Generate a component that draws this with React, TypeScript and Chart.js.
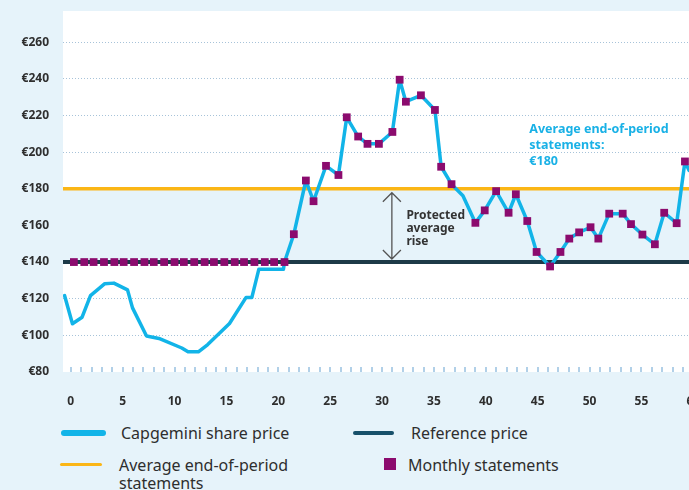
import { useEffect, useRef } from 'react';
import { Chart, registerables } from 'chart.js';

Chart.register(...registerables);

// ---- data ----
const X_MIN = -0.75;
const X_MAX = 62;
const Y_MIN = 80;
const Y_MAX = 277;
const X_STEP = 5;
const X_LABEL_MAX = 60;
const Y_STEP = 20;
const CURRENCY = '€';
const GRID_VALUES = [100, 120, 200, 220, 240, 260];
const REFERENCE_PRICE = 140;
const AVERAGE_STATEMENT = 180;

const shareX = [-0.6, 0.16, 1.09, 1.9, 3.28, 4.15, 5.47, 5.95, 7.3, 8.5, 10.7, 11.3, 12.3, 13.2, 15.3, 16.9, 17.45, 18.13, 20.5, 20.6,
  21.5, 22.66, 23.4, 24.6, 25.8, 26.6, 27.7, 28.6, 29.7, 31.0, 31.7, 32.3, 33.75, 35.1, 35.7, 36.7, 37.8, 39.0, 39.9, 41.0,
  42.2, 42.9, 44.0, 44.9, 46.2, 47.2, 48.05, 49.0, 50.1, 50.85, 51.9, 53.2, 54.0, 55.1, 56.3, 57.2, 58.4, 59.2, 59.6];
const shareY = [121.7, 106.3, 109.9, 121.7, 128.2, 128.5, 124.8, 115, 99.6, 98.3, 93.1, 91, 91, 95, 106.5, 120.7, 120.6, 136.1, 136.1, 140,
  155.2, 184.5, 173.2, 192.5, 187.5, 219, 208.5, 204.5, 204.5, 211, 239.5, 227.5, 231, 223, 192, 182.5, 176.2, 161.4, 168.2, 178.7,
  166.9, 177, 162.4, 145.5, 137.6, 145.5, 152.8, 156.2, 159, 152.8, 166.4, 166.4, 160.7, 155, 149.7, 166.9, 161.2, 194.9, 190];

const monthlyX = [0.3, 1.3, 2.2, 3.2, 4.2, 5.1, 6.1, 7.1, 8.0, 9.0, 10.0, 10.9, 11.9, 12.9, 13.8, 14.8, 15.8, 16.7, 17.7, 18.7, 19.6, 20.6,
  21.5, 22.66, 23.4, 24.6, 25.8, 26.6, 27.7, 28.6, 29.7, 31.0, 31.7, 32.3, 33.75, 35.1, 35.7, 36.7, 39.0, 39.9, 41.0,
  42.2, 42.9, 44.0, 44.9, 46.2, 47.2, 48.05, 49.0, 50.1, 50.85, 51.9, 53.2, 54.0, 55.1, 56.3, 57.2, 58.4, 59.2];
const monthlyY = [140, 140, 140, 140, 140, 140, 140, 140, 140, 140, 140, 140, 140, 140, 140, 140, 140, 140, 140, 140, 140, 140,
  155.2, 184.5, 173.2, 192.5, 187.5, 219, 208.5, 204.5, 204.5, 211, 239.5, 227.5, 231, 223, 192, 182.5, 161.4, 168.2, 178.7,
  166.9, 177, 162.4, 145.5, 137.6, 145.5, 152.8, 156.2, 159, 152.8, 166.4, 166.4, 160.7, 155, 149.7, 166.9, 161.2, 194.9];

const LEGEND_SHARE = 'Capgemini share price';
const LEGEND_REF = 'Reference price';
const LEGEND_AVG = 'Average end-of-period statements';
const LEGEND_MONTHLY = 'Monthly statements';
const NOTE_RISE = ['Protected', 'average', 'rise'];
const NOTE_AVG = ['Average end-of-period', 'statements:', '€180'];

// ---- colours ----
const BG = '#e6f3fa';
const CYAN = '#12b4e8';
const DARK = '#1d3a48';
const ORANGE = '#fbb616';
const PURPLE = '#8b0b6e';
const TEXT = '#2e2e2e';
const FONT = '"Noto Sans", sans-serif';

const decorPlugin = {
  id: 'decor',
  beforeDraw(chart: any) {
    const { ctx, chartArea: a } = chart;
    ctx.save();
    ctx.fillStyle = '#ffffff';
    ctx.fillRect(a.left, a.top, a.right - a.left, a.bottom - a.top);
    ctx.restore();
  },
  beforeDatasetsDraw(chart: any) {
    const { ctx, chartArea: a } = chart;
    const xs = chart.scales.x;
    ctx.save();
    ctx.strokeStyle = '#97c1e0';
    ctx.lineWidth = 1.5;
    for (let v = Math.ceil(xs.min); v <= xs.max; v++) {
      const px = Math.round(xs.getPixelForValue(v));
      ctx.beginPath();
      ctx.moveTo(px, a.bottom - 5);
      ctx.lineTo(px, a.bottom);
      ctx.stroke();
    }
    ctx.restore();
  },
  afterDatasetsDraw(chart: any) {
    const { ctx } = chart;
    const xs = chart.scales.x;
    const ys = chart.scales.y;
    ctx.save();
    // double arrow
    const ax = xs.getPixelForValue(30.95);
    const top = ys.getPixelForValue(AVERAGE_STATEMENT) + 4;
    const bot = ys.getPixelForValue(REFERENCE_PRICE) - 3;
    ctx.strokeStyle = '#555';
    ctx.lineWidth = 1.3;
    ctx.beginPath();
    ctx.moveTo(ax, top);
    ctx.lineTo(ax, bot);
    ctx.moveTo(ax - 9, top + 9);
    ctx.lineTo(ax, top);
    ctx.lineTo(ax + 9, top + 9);
    ctx.moveTo(ax - 9, bot - 9);
    ctx.lineTo(ax, bot);
    ctx.lineTo(ax + 9, bot - 9);
    ctx.stroke();
    // protected text
    ctx.fillStyle = '#333';
    ctx.font = 'bold 12px ' + FONT;
    ctx.textBaseline = 'middle';
    ctx.textAlign = 'left';
    const tx = xs.getPixelForValue(32.35);
    const mid = (ys.getPixelForValue(AVERAGE_STATEMENT) + ys.getPixelForValue(REFERENCE_PRICE)) / 2 + 3;
    NOTE_RISE.forEach((t, i) => ctx.fillText(t, tx, mid + (i - 1) * 13.3));
    // average note
    ctx.fillStyle = '#19b1e6';
    ctx.font = 'bold 12.5px ' + FONT;
    const cx = xs.getPixelForValue(44.2);
    const base = ys.getPixelForValue(200);
    NOTE_AVG.forEach((t, i) => ctx.fillText(t, cx, base - 23 + i * 16));
    ctx.restore();
  },
};

export default function App() {
  const ref = useRef<HTMLCanvasElement>(null);
  useEffect(() => {
    const share = shareX.map((x, i) => ({ x, y: shareY[i] }));
    const monthly = monthlyX.map((x, i) => ({ x, y: monthlyY[i] }));
    const chart = new Chart(ref.current as HTMLCanvasElement, {
      type: 'line',
      data: {
        datasets: [
          {
            label: LEGEND_MONTHLY,
            data: monthly,
            showLine: false,
            pointStyle: 'rect',
            pointRadius: 5.5,
            pointBackgroundColor: PURPLE,
            pointBorderWidth: 0,
            borderWidth: 0,
          },
          {
            label: LEGEND_SHARE,
            data: share,
            borderColor: CYAN,
            borderWidth: 3.5,
            pointRadius: 0,
            tension: 0,
            borderJoinStyle: 'round',
            borderCapStyle: 'round',
            fill: false,
          },
          {
            label: LEGEND_REF,
            data: [{ x: X_MIN, y: REFERENCE_PRICE }, { x: X_MAX, y: REFERENCE_PRICE }],
            borderColor: DARK,
            borderWidth: 4,
            pointRadius: 0,
            fill: false,
          },
          {
            label: LEGEND_AVG,
            data: [{ x: X_MIN, y: AVERAGE_STATEMENT }, { x: X_MAX, y: AVERAGE_STATEMENT }],
            borderColor: ORANGE,
            borderWidth: 3.5,
            pointRadius: 0,
            fill: { value: REFERENCE_PRICE },
            backgroundColor: BG,
          },
        ],
      } as any,
      options: {
        responsive: false,
        maintainAspectRatio: false,
        devicePixelRatio: 1,
        animation: false,
        layout: { padding: { top: 11, right: 26, left: 0, bottom: 0 } },
        plugins: { legend: { display: false }, tooltip: { enabled: false } },
        scales: {
          x: {
            type: 'linear',
            min: X_MIN,
            max: X_MAX,
            grid: { display: false, drawTicks: false },
            border: { display: false },
            ticks: {
              stepSize: X_STEP,
              includeBounds: false,
              autoSkip: false,
              maxRotation: 0,
              padding: 22,
              color: TEXT,
              font: { family: FONT, size: 12, weight: 'bold' },
              callback: (v: any) => (Number.isInteger(v) && v % X_STEP === 0 && v >= 0 && v <= X_LABEL_MAX ? String(v) : ''),
            },
            afterFit: (s: any) => { s.height = 48; s.paddingLeft = 0; s.paddingRight = 0; },
          },
          y: {
            type: 'linear',
            min: Y_MIN,
            max: Y_MAX,
            grid: {
              drawTicks: false,
              lineWidth: 1,
              color: (c: any) => (c.tick && GRID_VALUES.includes(c.tick.value) ? '#a7c3d9' : 'rgba(0,0,0,0)'),
            },
            border: { display: false, dash: [1, 2] },
            ticks: {
              stepSize: Y_STEP,
              includeBounds: false,
              padding: 14,
              color: TEXT,
              font: { family: FONT, size: 12, weight: 'bold' },
              callback: (v: any) => CURRENCY + v,
            },
            afterFit: (s: any) => { s.width = 63; s.paddingTop = 0; s.paddingBottom = 0; },
          },
        },
      } as any,
      plugins: [decorPlugin],
    });
    return () => chart.destroy();
  }, []);

  const txt: any = { position: 'absolute', fontFamily: FONT, fontSize: 16, color: TEXT, lineHeight: '18px', whiteSpace: 'nowrap' };
  return (
    <div style={{ position: 'fixed', left: 0, top: 0, width: 689, height: 490, background: BG, overflow: 'hidden' }}>
      <canvas ref={ref} width={740} height={420} style={{ position: 'absolute', left: 0, top: 0, display: 'block' }} />
      <div style={{ position: 'absolute', left: 61, top: 430, width: 45, height: 6, borderRadius: 3, background: CYAN }} />
      <div style={{ ...txt, left: 121, top: 424 }}>{LEGEND_SHARE}</div>
      <div style={{ position: 'absolute', left: 353, top: 431, width: 41, height: 4, borderRadius: 2, background: '#17506a' }} />
      <div style={{ ...txt, left: 411, top: 424 }}>{LEGEND_REF}</div>
      <div style={{ position: 'absolute', left: 60, top: 462.5, width: 42, height: 3, borderRadius: 1.5, background: ORANGE }} />
      <div style={{ ...txt, left: 119, top: 456, whiteSpace: 'normal', width: 185 }}>{LEGEND_AVG}</div>
      <div style={{ position: 'absolute', left: 384, top: 458, width: 12, height: 12, background: PURPLE }} />
      <div style={{ ...txt, left: 408, top: 456 }}>{LEGEND_MONTHLY}</div>
    </div>
  );
}
